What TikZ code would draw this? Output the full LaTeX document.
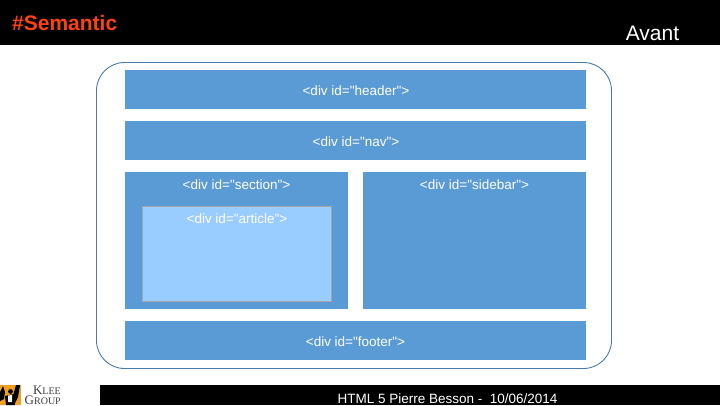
\documentclass[tikz,border=0pt]{standalone}
\usepackage{fontspec}
\setmainfont{Liberation Sans}
\newfontfamily\plainsans{Liberation Sans}
\newfontfamily\serifx{Liberation Serif}
\definecolor{boxblue}{HTML}{5B9BD5}
\definecolor{artblue}{HTML}{99CCFF}
\definecolor{framecol}{HTML}{4A7BA8}
\definecolor{titlered}{HTML}{FF4010}
\definecolor{logoorange}{HTML}{F0A020}
\tikzset{
 divbox/.style={fill=boxblue,inner sep=0pt,anchor=north west},
 divlabel/.style={text=white,font=\plainsans\fontsize{13.5}{15}\selectfont,inner sep=0pt,anchor=base},
}
\begin{document}
\begin{tikzpicture}[x=1pt,y=-1pt]
\useasboundingbox (0,0) rectangle (720,405);
\fill[white] (0,0) rectangle (720,405);
\fill[black] (0,0) rectangle (720,45);
\fill[black] (100,385) rectangle (720,405);
\node[text=titlered,font=\bfseries\fontsize{21}{23}\selectfont,inner sep=0pt,anchor=base west] (title) at (12,30) {\#Semantic};
\node[text=white,font=\fontsize{21}{23}\selectfont,inner sep=0pt,anchor=base] (avant) at (652.5,40) {Avant};
\node[text=white,font=\fontsize{13.5}{15}\selectfont,inner sep=0pt,anchor=base] (foot) at (447.5,403) {HTML 5 Pierre Besson -\ \ 10/06/2014};
\draw[framecol,line width=0.9pt,rounded corners=28pt] (96.5,62.5) rectangle (611.5,368.5);
\node[divbox,minimum width=461pt,minimum height=39pt] (header) at (125,70) {};
\node[divbox,minimum width=461pt,minimum height=39pt] (nav) at (125,121) {};
\node[divbox,minimum width=223pt,minimum height=137pt] (section) at (125,172) {};
\node[divbox,minimum width=223pt,minimum height=137pt] (sidebar) at (363,172) {};
\node[divbox,minimum width=461pt,minimum height=39pt] (footer) at (125,321) {};
\node[fill=artblue,draw=black!35,line width=1.2pt,inner sep=0pt,anchor=north west,minimum width=188.5pt,minimum height=94.5pt] (article) at (142,206) {};
\node[divlabel] at (356,95) {<div id="header">};
\node[divlabel] at (356,146) {<div id="nav">};
\node[divlabel] at (236.5,189) {<div id="section">};
\node[divlabel] at (474.5,189) {<div id="sidebar">};
\node[divlabel] at (237,223) {<div id="article">};
\node[divlabel] at (355.5,346) {<div id="footer">};
% logo
\fill[logoorange] (0,385) rectangle (21,405);
\fill[black] (0,392) -- (3,386) -- (5,392) -- (4,399) -- (0,401) -- cycle;
\fill[black] (16,385) -- (20,385) -- (18,397) -- (15,403) -- (13,396) -- cycle;
\fill[black] (5,396) -- (14,394) -- (15,405) -- (6,405) -- cycle;
\fill[black] (10.5,391.5) circle (2.4pt);
\fill[white] (8,395.5) -- (12,395) -- (12,402) -- (8,402) -- cycle;
\node[text=black!75,font=\serifx\fontsize{13}{8.5}\selectfont,inner sep=0pt,anchor=south east,align=right] (logotext) at (61,404.6) {K{\fontsize{10}{8.5}\selectfont LEE}\\G{\fontsize{10}{8.5}\selectfont ROUP}};
\end{tikzpicture}
\end{document}
